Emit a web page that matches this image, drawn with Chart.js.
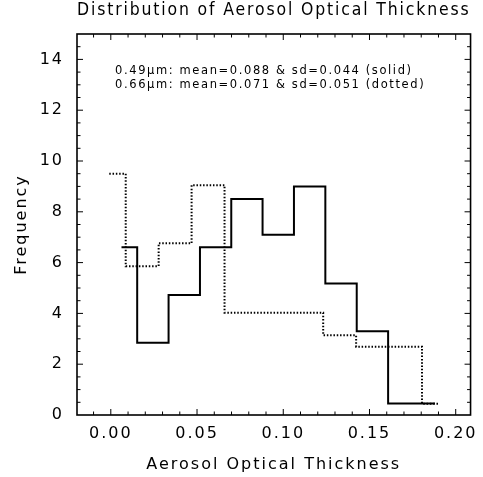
<!DOCTYPE html>
<html>
<head>
<meta charset="utf-8">
<script src="https://cdn.jsdelivr.net/npm/chart.js@4.4.1/dist/chart.umd.min.js"></script>
<style>
  html, body { margin: 0; padding: 0; background: #fff; }
  #wrap { width: 483px; height: 477px; }
</style>
</head>
<body>
<div id="wrap"><canvas id="aotHist" width="483" height="477"></canvas></div>
<script>
// 0.49 um channel: bin centres and frequency (solid line)
const blueBins = [0.0062, 0.0244, 0.0426, 0.0608, 0.0789, 0.0971, 0.1153, 0.1335, 0.1517, 0.1699, 0.1880]
const blueFreq = [6.60, 2.84, 4.72, 6.60, 8.50, 7.10, 9.00, 5.18, 3.30, 0.45, 0.45]

// 0.66 um channel: bin centres and frequency (dotted line)
const redBins = [-0.0009, 0.0182, 0.0373, 0.0564, 0.0755, 0.0946, 0.1136, 0.1327, 0.1518, 0.1709, 0.1900]
const redFreq = [9.50, 5.86, 6.76, 9.05, 4.03, 4.03, 4.03, 3.14, 2.69, 2.69, 0.44]

const xTickValues = [0.00, 0.05, 0.10, 0.15, 0.20]
const yTickValues = [0, 2, 4, 6, 8, 10, 12, 14]

const noteLines = [
  "0.49μm: mean=0.088 & sd=0.044 (solid)",
  "0.66μm: mean=0.071 & sd=0.051 (dotted)"
]

const FONT = "'DejaVu Sans', sans-serif"

Chart.defaults.color = "#000"
Chart.defaults.font.family = FONT

const toPoints = (xs, ys) => xs.map((x, i) => ({ x: x, y: ys[i] }))

/* ---------- wide lettering like the old vector fonts ---------- */
const letterSpacing = {
  id: "letterSpacing",
  beforeDraw(chart) {
    chart.ctx.letterSpacing = "2px"
  }
}

/* ---------- box frame with inward ticks on all four sides ---------- */
const frameTicks = {
  id: "frameTicks",
  afterDraw(chart) {
    const { ctx, chartArea: a, scales: { x, y } } = chart
    ctx.save()
    ctx.strokeStyle = "#000"

    ctx.lineWidth = 1
    ctx.beginPath()
    for (let i = -1; i <= 20; i++) {
      const v = i / 100
      const px = x.getPixelForValue(v)
      const len = i % 5 === 0 ? 6 : 3.5
      ctx.moveTo(px, a.bottom)
      ctx.lineTo(px, a.bottom - len)
      ctx.moveTo(px, a.top)
      ctx.lineTo(px, a.top + len)
    }
    for (let i = 1; i < 30; i++) {
      const v = i / 2
      const py = y.getPixelForValue(v)
      const len = i % 4 === 0 ? 6 : 3.5
      ctx.moveTo(a.left, py)
      ctx.lineTo(a.left + len, py)
      ctx.moveTo(a.right, py)
      ctx.lineTo(a.right - len, py)
    }
    ctx.stroke()

    ctx.lineWidth = 1.6
    ctx.strokeRect(a.left, a.top, a.right - a.left, a.bottom - a.top)
    ctx.restore()
  }
}

/* ---------- channel statistics written inside the plot ---------- */
const statsNote = {
  id: "statsNote",
  afterDraw(chart, args, opts) {
    const { ctx, scales: { x, y } } = chart
    ctx.save()
    ctx.letterSpacing = "1.6px"
    ctx.font = "11.5px " + FONT
    ctx.fillStyle = "#000"
    ctx.textAlign = "left"
    ctx.textBaseline = "middle"
    const left = x.getPixelForValue(opts.x)
    opts.lines.forEach((line, i) => {
      ctx.fillText(line, left, y.getPixelForValue(opts.y[i]))
    })
    ctx.restore()
  }
}

new Chart(document.getElementById("aotHist"), {
  type: "line",
  data: {
    datasets: [
      {
        label: "0.49um",
        data: toPoints(blueBins, blueFreq),
        stepped: "middle",
        borderColor: "#000",
        borderWidth: 2,
        pointRadius: 0,
        fill: false
      },
      {
        label: "0.66um",
        data: toPoints(redBins, redFreq),
        stepped: "middle",
        borderColor: "#000",
        borderWidth: 2,
        borderDash: [1.5, 1.8],
        pointRadius: 0,
        fill: false
      }
    ]
  },
  options: {
    responsive: false,
    animation: false,
    devicePixelRatio: 1,
    layout: { padding: { left: 0, right: 10, top: 0, bottom: 0 } },
    plugins: {
      legend: { display: false },
      tooltip: { enabled: false },
      title: {
        display: true,
        fullSize: false,
        text: "Distribution of Aerosol Optical Thickness",
        color: "#000",
        font: { family: FONT, size: 17, weight: "normal" },
        padding: { top: 0, bottom: 13.6 }
      },
      statsNote: { lines: noteLines, x: 0.0025, y: [13.56, 13.01] }
    },
    scales: {
      x: {
        type: "linear",
        min: -0.0196,
        max: 0.2086,
        grid: { display: false, drawTicks: false },
        border: { display: false },
        afterBuildTicks: s => { s.ticks = xTickValues.map(v => ({ value: v })) },
        afterFit: s => { s.height = 62 },
        ticks: {
          autoSkip: false,
          maxRotation: 0,
          padding: 9,
          font: { size: 16 },
          callback: v => v.toFixed(2)
        },
        title: {
          display: true,
          text: "Aerosol Optical Thickness",
          font: { size: 16 },
          padding: { top: 0, bottom: 3 }
        }
      },
      y: {
        type: "linear",
        min: 0,
        max: 15,
        grid: { display: false, drawTicks: false },
        border: { display: false },
        afterBuildTicks: s => { s.ticks = yTickValues.map(v => ({ value: v })) },
        afterFit: s => { s.width = 77 },
        ticks: {
          padding: 13,
          font: { size: 16 }
        },
        title: {
          display: true,
          text: "Frequency",
          font: { size: 16 },
          padding: { top: 12, bottom: 0 }
        }
      }
    }
  },
  plugins: [letterSpacing, frameTicks, statsNote]
})
</script>
</body>
</html>
